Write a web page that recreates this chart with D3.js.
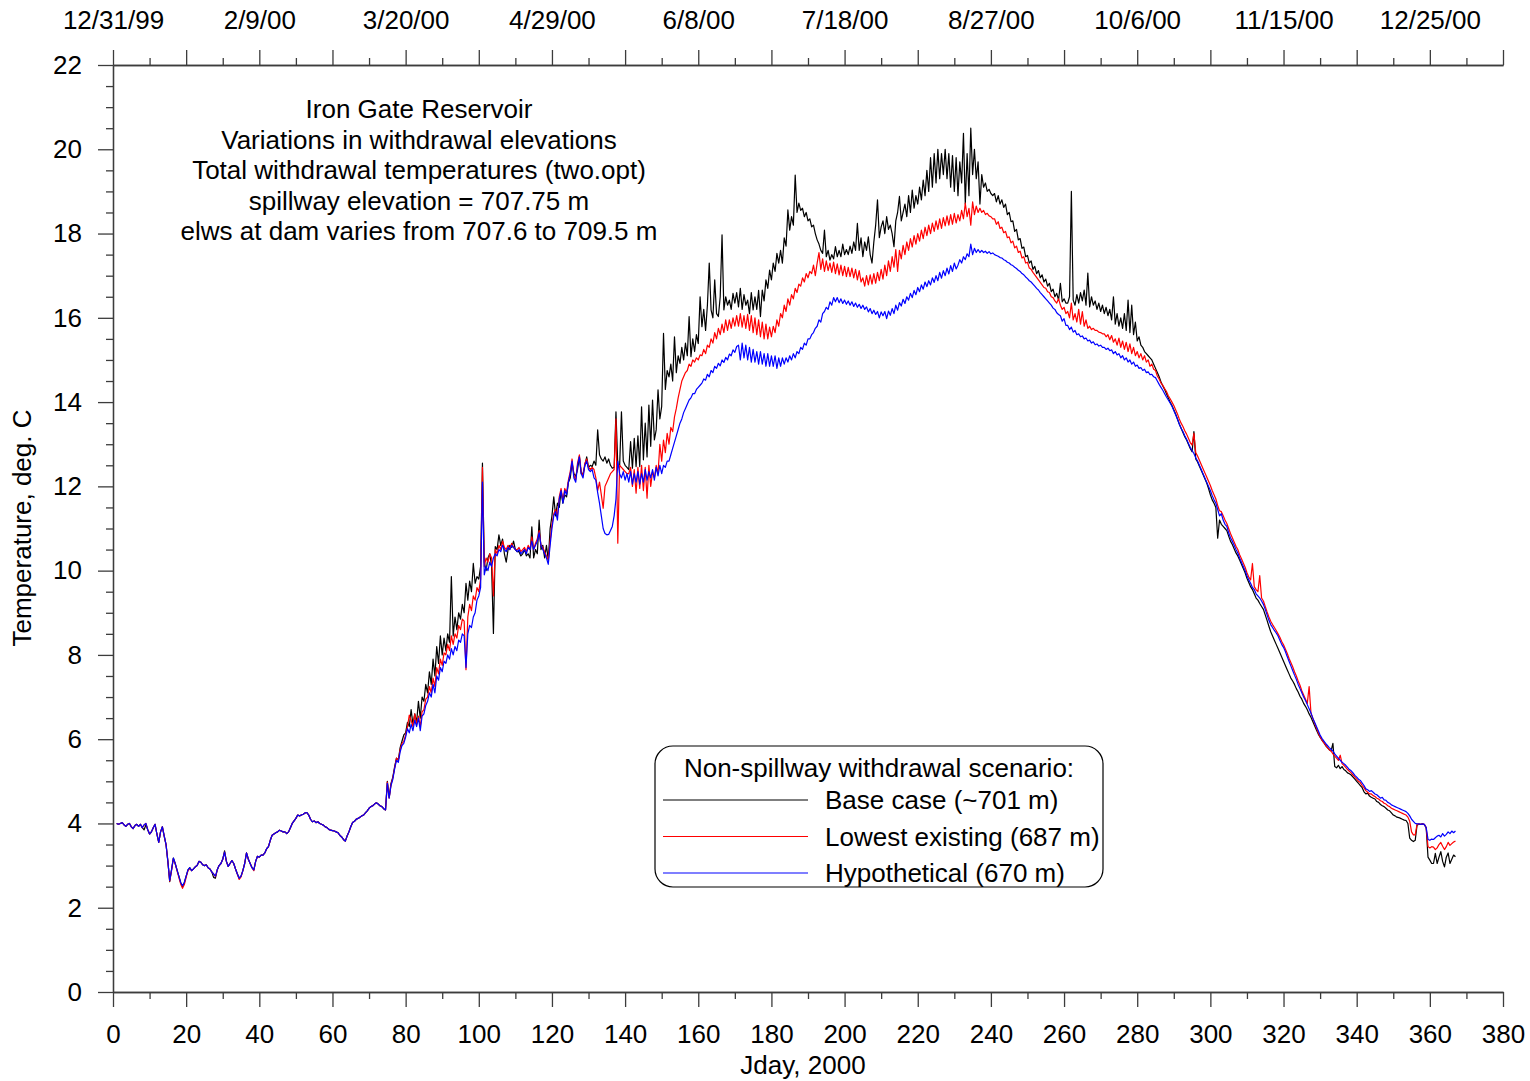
<!DOCTYPE html>
<html>
<head>
<meta charset="utf-8">
<script src="https://cdn.jsdelivr.net/npm/d3@7"></script>
<style>
  html, body { margin: 0; padding: 0; background: #ffffff; }
  svg text { font-family: "Liberation Sans", Arial, Helvetica, sans-serif; fill: #000; }
</style>
</head>
<body>
<svg id="chart" width="1530" height="1081"></svg>
<script>
// Half-day samples of total withdrawal temperature, starting at Jday 1.
const firstDay = 1;
const dayStep = 0.5;

// Base case (~701 m), deg. C — one row per ten days
const baseCase = [
  4.00,3.98,4.00,4.02,3.97,3.93,3.98,4.00,3.92,3.88,3.95,3.98,3.93,3.98,3.90,3.85,3.97,3.85,3.75,3.80,
  3.90,3.98,3.75,3.55,3.80,3.92,3.70,3.50,3.10,2.62,2.90,3.18,3.05,2.90,2.75,2.60,2.50,2.60,2.75,2.90,
  2.95,2.88,2.92,2.97,3.00,3.10,3.08,3.02,3.00,3.02,2.95,2.92,2.85,2.72,2.70,2.90,3.00,3.05,3.15,3.35,
  3.10,2.98,3.05,3.12,3.05,2.92,2.80,2.70,2.75,2.88,3.05,3.30,3.15,3.05,2.95,2.90,3.10,3.22,3.20,3.25,
  3.25,3.30,3.40,3.45,3.60,3.72,3.75,3.78,3.80,3.84,3.82,3.80,3.80,3.76,3.80,3.90,4.00,4.06,4.12,4.20,
  4.18,4.20,4.22,4.25,4.26,4.20,4.10,4.04,4.06,4.02,4.04,4.00,3.98,3.96,3.92,3.90,3.86,3.84,3.83,3.82,
  3.80,3.78,3.72,3.68,3.62,3.58,3.70,3.80,3.92,4.02,4.05,4.10,4.12,4.15,4.18,4.20,4.25,4.30,4.36,4.40,
  4.42,4.46,4.49,4.46,4.42,4.40,4.35,4.32,5.00,4.62,4.95,5.10,5.35,5.55,5.50,5.80,5.95,6.10,6.15,6.40,
  6.30,6.70,6.35,6.60,6.40,6.90,6.50,7.00,6.90,7.30,7.10,7.60,7.30,7.90,7.50,8.20,7.80,8.45,8.00,8.40,
  8.10,8.50,8.30,9.86,8.45,8.90,8.60,9.00,8.85,9.20,9.00,9.70,9.30,9.75,9.50,10.17,9.70,9.86,9.80,10.10,
  12.55,10.20,10.00,10.30,10.40,10.10,8.51,10.57,10.50,10.85,10.60,10.75,10.40,10.20,10.50,10.60,10.55,10.70,10.50,10.45,
  10.45,10.35,10.40,10.50,10.35,10.40,10.30,11.04,10.30,10.50,10.40,11.20,10.50,10.60,10.30,10.60,10.25,11.00,11.30,11.75,
  11.30,11.60,11.50,11.90,11.60,11.80,11.75,12.10,12.20,12.55,12.30,12.24,12.40,12.70,12.30,12.30,12.50,12.70,12.45,12.50,
  12.47,12.60,12.50,13.34,12.75,12.65,12.60,12.70,12.55,12.65,12.50,12.43,12.45,13.77,12.50,12.47,13.77,12.60,12.50,12.45,
  12.40,13.06,12.43,13.14,12.47,13.20,12.47,13.89,12.63,13.50,12.70,13.93,12.95,14.05,13.10,13.34,14.29,13.60,13.90,15.63,
  14.30,14.75,14.60,14.90,14.50,15.55,14.70,15.10,14.92,15.30,15.00,15.40,15.10,16.03,15.08,15.50,15.20,15.60,15.39,16.50,
  15.79,16.20,15.70,16.30,17.30,16.19,16.00,16.90,16.10,16.03,16.50,17.97,16.19,16.50,16.30,16.42,16.20,16.58,16.35,16.60,
  16.26,16.70,16.20,16.55,16.30,16.42,16.10,16.60,16.19,16.50,16.20,16.65,16.03,16.66,16.40,16.90,16.70,17.13,16.90,17.30,
  17.10,17.53,17.30,17.60,17.30,17.90,17.70,18.56,18.08,18.40,18.20,19.39,18.50,18.72,18.55,18.60,18.40,18.50,18.30,18.35,
  18.16,18.20,18.00,17.85,17.75,17.60,17.53,18.08,17.45,17.60,17.37,17.50,17.40,17.69,17.45,17.60,17.45,17.75,17.50,17.62,
  17.50,17.70,17.53,17.80,17.60,18.24,17.60,17.90,17.45,17.80,17.60,17.92,17.50,17.30,17.80,18.20,18.80,17.90,18.16,18.30,
  18.00,18.40,18.10,18.20,18.00,17.69,18.30,18.50,18.88,18.30,18.50,18.70,18.40,18.90,18.50,19.03,18.60,18.90,18.70,19.10,
  18.80,19.27,18.90,19.50,19.00,19.80,19.10,19.90,19.20,20.00,19.30,19.90,19.40,20.00,19.30,19.90,19.10,19.85,19.00,19.80,
  18.90,19.70,19.20,20.38,18.70,19.90,18.90,20.50,19.40,20.00,19.30,19.70,18.70,19.40,19.10,19.20,19.00,19.05,18.95,18.90,
  18.95,18.75,18.90,18.70,18.80,18.62,18.70,18.45,18.50,18.28,18.30,18.05,18.10,17.85,17.88,17.65,17.68,17.45,17.48,17.30,
  17.35,17.15,17.22,17.05,17.12,16.95,17.02,16.85,16.92,16.75,16.82,16.62,16.68,16.50,16.58,16.42,16.82,16.38,16.45,16.35,
  16.35,16.50,19.00,16.42,16.30,16.55,16.35,16.60,16.40,16.66,16.30,17.06,16.26,16.50,16.30,16.40,16.20,16.35,16.15,16.30,
  16.10,16.25,16.05,16.20,15.95,16.50,15.85,16.10,15.80,16.00,15.75,16.10,15.70,16.42,15.65,16.30,15.60,15.90,15.45,15.55,
  15.35,15.30,15.20,15.15,15.10,15.05,15.00,14.90,14.80,14.70,14.60,14.48,14.38,14.30,14.20,14.10,14.00,13.92,13.82,13.72,
  13.60,13.48,13.38,13.28,13.18,13.10,13.00,12.90,12.82,13.30,12.65,12.58,12.48,12.38,12.28,12.18,12.08,11.95,11.80,11.68,
  11.60,11.50,10.77,11.20,11.10,11.05,11.00,10.95,10.82,10.70,10.62,10.52,10.42,10.35,10.25,10.15,10.05,9.95,9.82,9.72,
  9.62,9.55,9.45,9.35,9.30,9.22,9.15,9.08,8.95,8.82,8.68,8.55,8.45,8.35,8.25,8.15,8.05,7.95,7.85,7.75,
  7.65,7.55,7.45,7.38,7.30,7.20,7.12,7.02,6.95,6.85,6.78,6.70,6.60,6.52,6.42,6.32,6.22,6.12,6.05,5.98,
  5.92,5.85,5.80,5.75,5.72,5.90,5.35,5.32,5.38,5.30,5.35,5.28,5.25,5.20,5.18,5.15,5.10,5.05,5.00,4.95,
  4.90,4.85,4.75,4.70,4.72,4.65,4.62,4.60,4.58,4.52,4.50,4.45,4.42,4.40,4.36,4.32,4.30,4.25,4.20,4.18,
  4.15,4.14,4.12,4.10,4.08,4.07,4.00,3.65,3.60,3.57,3.60,3.96,3.98,3.98,3.99,3.97,3.90,3.20,3.13,3.05,
  3.05,3.29,3.05,3.20,3.33,3.10,2.97,3.20,3.30,3.05,3.15,3.25,3.21
];

// Lowest existing outlet (687 m), deg. C
const lowestExisting = [
  4.00,3.98,4.00,4.02,3.97,3.93,3.98,4.00,3.92,3.88,3.95,3.98,3.93,3.98,3.90,3.96,4.00,3.85,3.75,3.80,
  3.90,3.98,3.75,3.55,3.80,3.92,3.70,3.50,3.10,2.63,2.88,3.16,3.05,2.88,2.72,2.56,2.46,2.55,2.72,2.88,
  2.93,2.88,2.92,2.97,3.00,3.10,3.08,3.02,3.00,3.02,2.95,2.92,2.85,2.80,2.74,2.90,3.00,3.05,3.15,3.32,
  3.10,2.98,3.05,3.12,3.05,2.92,2.80,2.67,2.73,2.88,3.05,3.30,3.15,3.05,2.95,2.88,3.10,3.22,3.20,3.25,
  3.25,3.30,3.40,3.45,3.60,3.72,3.75,3.78,3.80,3.84,3.82,3.80,3.80,3.76,3.80,3.90,4.00,4.06,4.12,4.20,
  4.18,4.20,4.22,4.25,4.26,4.20,4.10,4.04,4.06,4.02,4.04,4.00,3.98,3.96,3.92,3.90,3.86,3.84,3.83,3.82,
  3.80,3.78,3.72,3.68,3.62,3.58,3.70,3.80,3.92,4.02,4.05,4.10,4.12,4.15,4.18,4.20,4.25,4.30,4.36,4.40,
  4.42,4.46,4.49,4.46,4.42,4.40,4.35,4.32,4.98,4.60,4.92,5.08,5.32,5.55,5.50,5.75,5.90,5.95,6.10,6.30,
  6.57,6.45,6.30,6.60,6.35,6.55,6.30,6.65,6.70,6.95,7.00,7.25,7.10,7.45,7.25,7.70,7.55,7.90,7.75,8.05,
  8.00,8.25,8.10,8.45,8.25,8.50,8.40,8.70,8.60,8.85,8.80,7.65,8.90,9.20,9.05,9.40,9.30,9.60,9.50,9.80,
  12.45,10.10,10.30,10.20,10.40,10.30,9.40,10.50,10.40,10.60,10.50,10.70,10.55,10.50,10.60,10.50,10.65,10.55,10.50,10.50,
  10.55,10.45,10.50,10.55,10.45,10.60,10.50,10.80,10.50,10.65,10.75,10.95,10.60,10.55,10.45,10.35,10.25,10.70,11.10,11.35,
  11.45,11.30,11.75,11.95,11.65,11.95,11.85,12.15,12.35,12.65,12.25,12.15,12.55,12.75,12.35,12.25,12.55,12.65,12.45,12.40,
  12.45,12.40,12.20,11.90,12.10,11.80,11.48,12.00,12.10,12.20,12.30,12.35,12.40,13.60,10.65,12.50,12.45,12.40,12.35,12.30,
  12.30,12.45,12.00,12.40,11.84,12.45,11.95,12.50,11.90,12.45,11.72,12.50,12.00,12.35,12.20,12.50,12.30,13.00,12.60,13.10,
  12.80,13.26,13.00,13.40,13.30,13.65,13.85,14.10,14.30,14.50,14.60,14.70,14.75,14.90,14.85,15.00,14.95,15.05,15.00,15.12,
  15.10,15.25,15.15,15.35,15.30,15.50,15.40,15.65,15.50,15.75,15.60,15.85,15.65,15.95,15.70,15.95,15.75,16.00,15.80,16.05,
  15.80,16.10,15.78,16.05,15.75,16.08,15.70,16.05,15.65,16.00,15.60,15.95,15.55,15.90,15.50,15.85,15.50,15.78,15.55,15.80,
  15.65,15.95,15.80,16.10,16.00,16.30,16.15,16.45,16.30,16.55,16.45,16.70,16.60,16.80,16.75,16.95,16.85,17.05,16.95,17.10,
  17.05,17.25,17.00,17.30,17.55,17.15,17.40,17.10,17.35,17.12,17.30,17.08,17.32,17.05,17.28,17.02,17.25,17.00,17.22,16.98,
  17.20,16.98,17.18,16.95,17.15,16.90,17.12,16.85,16.95,16.75,17.00,16.78,17.02,16.80,17.05,16.82,17.08,16.88,17.15,16.92,
  17.25,17.00,17.35,17.10,17.45,17.20,17.62,17.10,17.60,17.40,17.72,17.50,17.80,17.60,17.88,17.68,17.95,17.75,18.00,17.82,
  18.08,17.88,18.15,17.95,18.20,18.00,18.25,18.05,18.30,18.10,18.35,18.12,18.38,18.18,18.42,18.20,18.45,18.22,18.48,18.25,
  18.45,18.30,18.55,18.35,18.72,18.40,18.60,18.20,18.75,18.45,18.65,18.50,18.60,18.50,18.55,18.45,18.48,18.42,18.40,18.35,
  18.35,18.22,18.28,18.12,18.15,18.02,18.05,17.90,17.92,17.78,17.82,17.66,17.70,17.55,17.58,17.42,17.45,17.30,17.32,17.18,
  17.15,17.08,17.02,16.96,16.90,16.84,16.78,16.72,16.70,16.62,16.60,16.50,16.48,16.40,16.35,16.45,16.30,16.20,16.25,16.10,
  16.15,16.00,16.35,15.95,16.10,15.90,16.20,15.85,16.15,15.80,15.95,15.75,15.80,15.72,15.75,15.70,15.70,15.66,15.65,15.62,
  15.62,15.55,15.60,15.48,15.58,15.42,15.50,15.35,15.52,15.30,15.45,15.25,15.42,15.20,15.38,15.15,15.30,15.10,15.20,15.05,
  15.15,15.00,15.10,14.95,15.00,14.85,14.90,14.78,14.75,14.62,14.55,14.45,14.40,14.32,14.25,14.15,14.08,14.00,13.92,13.82,
  13.72,13.60,13.50,13.42,13.32,13.24,13.14,13.04,12.98,13.26,12.80,12.72,12.62,12.52,12.42,12.32,12.22,12.12,12.02,11.90,
  11.80,11.70,11.55,11.42,11.40,11.30,11.20,11.12,11.00,10.88,10.78,10.68,10.58,10.50,10.38,10.28,10.18,10.08,9.95,9.85,
  9.78,10.17,9.62,9.55,9.50,9.88,9.35,9.28,9.15,9.02,8.90,8.80,8.72,8.65,8.58,8.50,8.42,8.32,8.24,8.14,
  8.04,7.92,7.82,7.72,7.60,7.50,7.38,7.28,7.15,7.05,6.95,6.85,7.25,6.62,6.50,6.38,6.27,6.15,6.05,5.98,
  5.92,5.86,5.80,5.75,5.72,5.65,5.60,5.55,5.50,5.62,5.42,5.38,5.33,5.28,5.24,5.20,5.15,5.10,5.05,5.00,
  4.97,4.90,4.85,4.78,4.74,4.70,4.70,4.66,4.64,4.60,4.58,4.54,4.52,4.48,4.46,4.42,4.40,4.36,4.34,4.32,
  4.30,4.28,4.26,4.24,4.22,4.20,4.15,4.05,3.80,3.73,3.73,3.98,3.99,3.98,3.99,3.98,3.90,3.45,3.42,3.45,
  3.44,3.38,3.42,3.50,3.55,3.46,3.38,3.45,3.55,3.48,3.52,3.56,3.58
];

// Hypothetical deep outlet (670 m), deg. C
const hypothetical = [
  4.00,3.98,4.00,4.02,3.97,3.93,3.98,4.00,3.92,3.88,3.95,3.98,3.93,3.98,3.90,3.97,4.00,3.85,3.75,3.80,
  3.90,3.98,3.75,3.55,3.80,3.92,3.70,3.50,3.10,2.65,2.90,3.18,3.05,2.90,2.75,2.60,2.52,2.60,2.75,2.90,
  2.95,2.88,2.92,2.97,3.00,3.10,3.08,3.02,3.00,3.02,2.95,2.92,2.85,2.80,2.75,2.90,3.00,3.05,3.15,3.32,
  3.10,2.98,3.05,3.12,3.05,2.92,2.80,2.70,2.75,2.88,3.05,3.30,3.15,3.05,2.95,2.90,3.10,3.22,3.20,3.25,
  3.25,3.30,3.40,3.45,3.60,3.72,3.75,3.78,3.80,3.84,3.82,3.80,3.80,3.76,3.80,3.90,4.00,4.06,4.12,4.20,
  4.18,4.20,4.22,4.25,4.26,4.20,4.10,4.04,4.06,4.02,4.04,4.00,3.98,3.96,3.92,3.90,3.86,3.84,3.83,3.82,
  3.80,3.78,3.72,3.68,3.62,3.58,3.70,3.80,3.92,4.02,4.05,4.10,4.12,4.15,4.18,4.20,4.25,4.30,4.36,4.40,
  4.42,4.46,4.49,4.46,4.42,4.40,4.35,4.32,4.95,4.60,4.90,5.05,5.30,5.50,5.45,5.70,5.85,5.90,6.05,6.25,
  6.15,6.35,6.20,6.45,6.30,6.50,6.20,6.55,6.60,6.80,6.90,7.10,7.00,7.30,7.10,7.50,7.40,7.70,7.60,7.85,
  7.80,8.00,7.90,8.15,8.00,8.20,8.10,8.35,8.30,8.50,8.45,7.70,8.50,8.70,8.65,8.90,9.00,9.30,9.40,9.60,
  12.10,9.90,10.10,10.00,10.20,10.10,10.30,10.40,10.35,10.50,10.45,10.60,10.50,10.45,10.55,10.50,10.60,10.55,10.50,10.45,
  10.50,10.40,10.45,10.50,10.40,10.55,10.50,10.70,10.50,10.60,10.70,10.90,10.60,10.50,10.40,10.30,10.15,10.60,11.00,11.30,
  11.40,11.20,11.70,11.90,11.60,11.90,11.80,12.10,12.30,12.60,12.20,12.10,12.50,12.70,12.30,12.20,12.50,12.60,12.40,12.35,
  12.40,12.20,12.15,11.85,11.60,11.30,11.00,10.88,10.85,10.86,10.95,11.05,11.30,11.70,12.60,12.30,12.20,12.35,12.15,12.30,
  12.10,12.35,12.05,12.30,12.10,12.35,12.05,12.30,12.10,12.40,12.15,12.35,12.20,12.40,12.15,12.45,12.25,12.50,12.30,12.50,
  12.45,12.60,12.60,12.75,12.90,13.05,13.20,13.35,13.50,13.60,13.75,13.85,13.95,14.05,14.10,14.20,14.20,14.30,14.35,14.40,
  14.45,14.55,14.52,14.66,14.60,14.75,14.70,14.85,14.80,14.92,14.86,15.00,14.94,15.06,15.00,15.14,15.10,15.24,15.18,15.32,
  15.35,15.00,15.40,15.05,15.35,15.00,15.30,14.95,15.25,14.95,15.20,14.90,15.20,14.90,15.15,14.85,15.15,14.85,15.10,14.85,
  15.10,14.80,15.05,14.85,15.05,14.90,15.05,14.95,15.10,15.00,15.15,15.05,15.20,15.15,15.30,15.25,15.40,15.35,15.50,15.50,
  15.60,15.65,15.75,15.80,15.95,15.90,16.10,16.15,16.25,16.20,16.38,16.30,16.48,16.38,16.48,16.36,16.45,16.34,16.42,16.32,
  16.40,16.30,16.38,16.27,16.35,16.25,16.32,16.22,16.30,16.20,16.26,16.14,16.22,16.10,16.18,16.08,16.15,16.00,16.14,16.05,
  16.15,15.98,16.16,16.06,16.22,16.10,16.30,16.18,16.36,16.28,16.44,16.34,16.50,16.42,16.58,16.48,16.65,16.55,16.72,16.62,
  16.78,16.68,16.85,16.74,16.88,16.78,16.95,16.84,17.00,16.88,17.08,16.94,17.12,17.00,17.18,17.04,17.24,17.10,17.30,17.16,
  17.25,17.38,17.30,17.45,17.38,17.52,17.45,17.75,17.50,17.65,17.55,17.62,17.55,17.60,17.55,17.58,17.53,17.57,17.52,17.54,
  17.50,17.48,17.46,17.43,17.42,17.38,17.36,17.32,17.30,17.26,17.24,17.20,17.17,17.13,17.10,17.05,17.02,16.97,16.93,16.88,
  16.85,16.80,16.75,16.70,16.66,16.60,16.55,16.50,16.45,16.40,16.35,16.30,16.23,16.20,16.12,16.08,16.05,15.92,15.98,15.82,
  15.82,15.72,15.78,15.66,15.70,15.60,15.62,15.55,15.57,15.50,15.52,15.45,15.47,15.40,15.43,15.36,15.38,15.33,15.35,15.30,
  15.30,15.25,15.28,15.22,15.24,15.15,15.20,15.12,15.15,15.05,15.10,15.00,15.05,14.95,15.00,14.90,14.95,14.85,14.88,14.80,
  14.82,14.75,14.78,14.70,14.72,14.65,14.66,14.60,14.58,14.50,14.42,14.35,14.28,14.20,14.12,14.05,13.98,13.90,13.80,13.70,
  13.60,13.48,13.38,13.30,13.20,13.12,13.02,12.92,12.85,12.78,12.68,12.60,12.50,12.40,12.30,12.20,12.10,12.00,11.90,11.78,
  11.68,11.60,11.45,11.30,11.35,11.20,11.10,11.05,10.90,10.78,10.70,10.60,10.50,10.42,10.30,10.20,10.10,10.00,9.88,9.78,
  9.70,9.60,9.55,9.45,9.40,9.35,9.28,9.20,9.08,8.95,8.82,8.72,8.65,8.58,8.52,8.45,8.35,8.25,8.18,8.08,
  7.96,7.85,7.74,7.63,7.52,7.42,7.30,7.20,7.10,7.00,6.92,6.82,6.72,6.62,6.50,6.40,6.30,6.20,6.10,6.02,
  5.96,5.90,5.85,5.80,5.76,5.72,5.65,5.60,5.55,5.50,5.45,5.42,5.38,5.33,5.28,5.25,5.20,5.14,5.10,5.05,
  5.02,4.96,4.90,4.82,4.80,4.76,4.78,4.74,4.70,4.68,4.64,4.60,4.62,4.56,4.55,4.50,4.48,4.44,4.42,4.40,
  4.38,4.36,4.34,4.32,4.30,4.28,4.24,4.18,4.10,4.05,4.00,3.99,3.99,3.98,3.99,3.98,3.90,3.62,3.60,3.63,
  3.62,3.66,3.70,3.72,3.68,3.76,3.70,3.74,3.80,3.76,3.82,3.78,3.82
];

const seriesLabels = ["Base case (~701 m)", "Lowest existing (687 m)", "Hypothetical (670 m)"];
const seriesColors = ["#000000", "#ff0000", "#0000ff"];
const legendTitle = "Non-spillway withdrawal scenario:";

const titleLines = [
  "Iron Gate Reservoir",
  "Variations in withdrawal elevations",
  "Total withdrawal temperatures (two.opt)",
  "spillway elevation = 707.75 m",
  "elws at dam varies from 707.6 to 709.5 m"
];

// Calendar dates printed along the top edge, every 40 Jdays
const dateTickDays = [0, 40, 80, 120, 160, 200, 240, 280, 320, 360];
const dateTickLabels = ["12/31/99", "2/9/00", "3/20/00", "4/29/00", "6/8/00",
                        "7/18/00", "8/27/00", "10/6/00", "11/15/00", "12/25/00"];

const jdayMajorTicks = d3.range(0, 381, 20);
const jdayMinorTicks = d3.range(10, 380, 20);
const tempMajorTicks = d3.range(0, 23, 2);
const tempMinorTicks = d3.range(0.5, 22, 0.5).filter(v => v % 2 !== 0);

const xAxisTitle = "Jday, 2000";
const yAxisTitle = "Temperature, deg. C";

// ---- layout ----
const W = 1530, H = 1081;
const plot = { left: 113, right: 1503, top: 65, bottom: 992 };
const fontPx = 26;
const axisColor = "#3c3c3c";

const svg = d3.select("#chart");
svg.append("rect").attr("width", W).attr("height", H).attr("fill", "#fff");

const x = d3.scaleLinear().domain([0, 380]).range([plot.left, plot.right]);
const y = d3.scaleLinear().domain([0, 22]).range([plot.bottom, plot.top]);

function styleAxis(g) {
  g.selectAll(".domain").attr("stroke", axisColor).attr("stroke-width", 1.3);
  g.selectAll(".tick line").attr("stroke", axisColor).attr("stroke-width", 1.3);
  g.selectAll("text").attr("font-size", fontPx).attr("fill", "#000")
    .attr("font-family", '"Liberation Sans", Arial, sans-serif');
}

// bottom axis: Jday
svg.append("g").attr("transform", `translate(0,${plot.bottom})`)
  .call(d3.axisBottom(x).tickValues(jdayMinorTicks).tickSize(7).tickSizeOuter(0).tickFormat(""))
  .call(styleAxis);
svg.append("g").attr("transform", `translate(0,${plot.bottom})`)
  .call(d3.axisBottom(x).tickValues(jdayMajorTicks).tickSize(15).tickSizeOuter(0).tickPadding(18).tickFormat(d3.format("d")))
  .call(styleAxis);

// top axis: calendar dates
svg.append("g").attr("transform", `translate(0,${plot.top})`)
  .call(d3.axisTop(x).tickValues(jdayMinorTicks).tickSize(7).tickSizeOuter(0).tickFormat(""))
  .call(styleAxis);
svg.append("g").attr("transform", `translate(0,${plot.top})`)
  .call(d3.axisTop(x).tickValues(jdayMajorTicks).tickSize(15).tickSizeOuter(0).tickFormat(""))
  .call(styleAxis);
svg.append("g").attr("transform", `translate(0,${plot.top})`)
  .call(d3.axisTop(x).tickValues(dateTickDays).tickSize(0).tickSizeOuter(0).tickPadding(36)
        .tickFormat((d, i) => dateTickLabels[i]))
  .call(styleAxis)
  .call(g => g.select(".domain").remove());

// left axis: temperature
svg.append("g").attr("transform", `translate(${plot.left},0)`)
  .call(d3.axisLeft(y).tickValues(tempMinorTicks).tickSize(7).tickSizeOuter(0).tickFormat(""))
  .call(styleAxis);
svg.append("g").attr("transform", `translate(${plot.left},0)`)
  .call(d3.axisLeft(y).tickValues(tempMajorTicks).tickSize(15).tickSizeOuter(0).tickPadding(16).tickFormat(d3.format("d")))
  .call(styleAxis);

// axis titles
svg.append("text")
  .attr("x", 803).attr("y", 1074)
  .attr("text-anchor", "middle").attr("font-size", fontPx)
  .text(xAxisTitle);
svg.append("text")
  .attr("transform", "translate(31,528) rotate(-90)")
  .attr("text-anchor", "middle").attr("font-size", fontPx)
  .text(yAxisTitle);

// annotation block
svg.append("g").selectAll("text").data(titleLines).join("text")
  .attr("x", 419).attr("y", (d, i) => 118 + i * 30.5)
  .attr("text-anchor", "middle").attr("font-size", fontPx)
  .text(d => d);

// temperature traces
const line = d3.line()
  .x((v, i) => x(firstDay + i * dayStep))
  .y(v => y(v));

const seriesData = [baseCase, lowestExisting, hypothetical];
svg.append("g").selectAll("path").data(seriesData).join("path")
  .attr("d", d => line(d))
  .attr("fill", "none")
  .attr("stroke", (d, i) => seriesColors[i])
  .attr("stroke-width", 1.2)
  .attr("stroke-linejoin", "round");

// legend
const legend = svg.append("g");
legend.append("rect")
  .attr("x", 655).attr("y", 746).attr("width", 448).attr("height", 141)
  .attr("rx", 18).attr("ry", 18)
  .attr("fill", "#fff").attr("stroke", "#000").attr("stroke-width", 1.2);
legend.append("text")
  .attr("x", 879).attr("y", 777).attr("text-anchor", "middle")
  .attr("font-size", fontPx).text(legendTitle);
const rowY = [800, 836.5, 873];
legend.selectAll("line.key").data(seriesLabels).join("line")
  .attr("class", "key")
  .attr("x1", 663).attr("x2", 808)
  .attr("y1", (d, i) => rowY[i]).attr("y2", (d, i) => rowY[i])
  .attr("stroke", (d, i) => seriesColors[i]).attr("stroke-width", 1.2);
legend.selectAll("text.key").data(seriesLabels).join("text")
  .attr("class", "key")
  .attr("x", 825).attr("y", (d, i) => rowY[i] + 9)
  .attr("font-size", fontPx).text(d => d);
</script>
</body>
</html>
